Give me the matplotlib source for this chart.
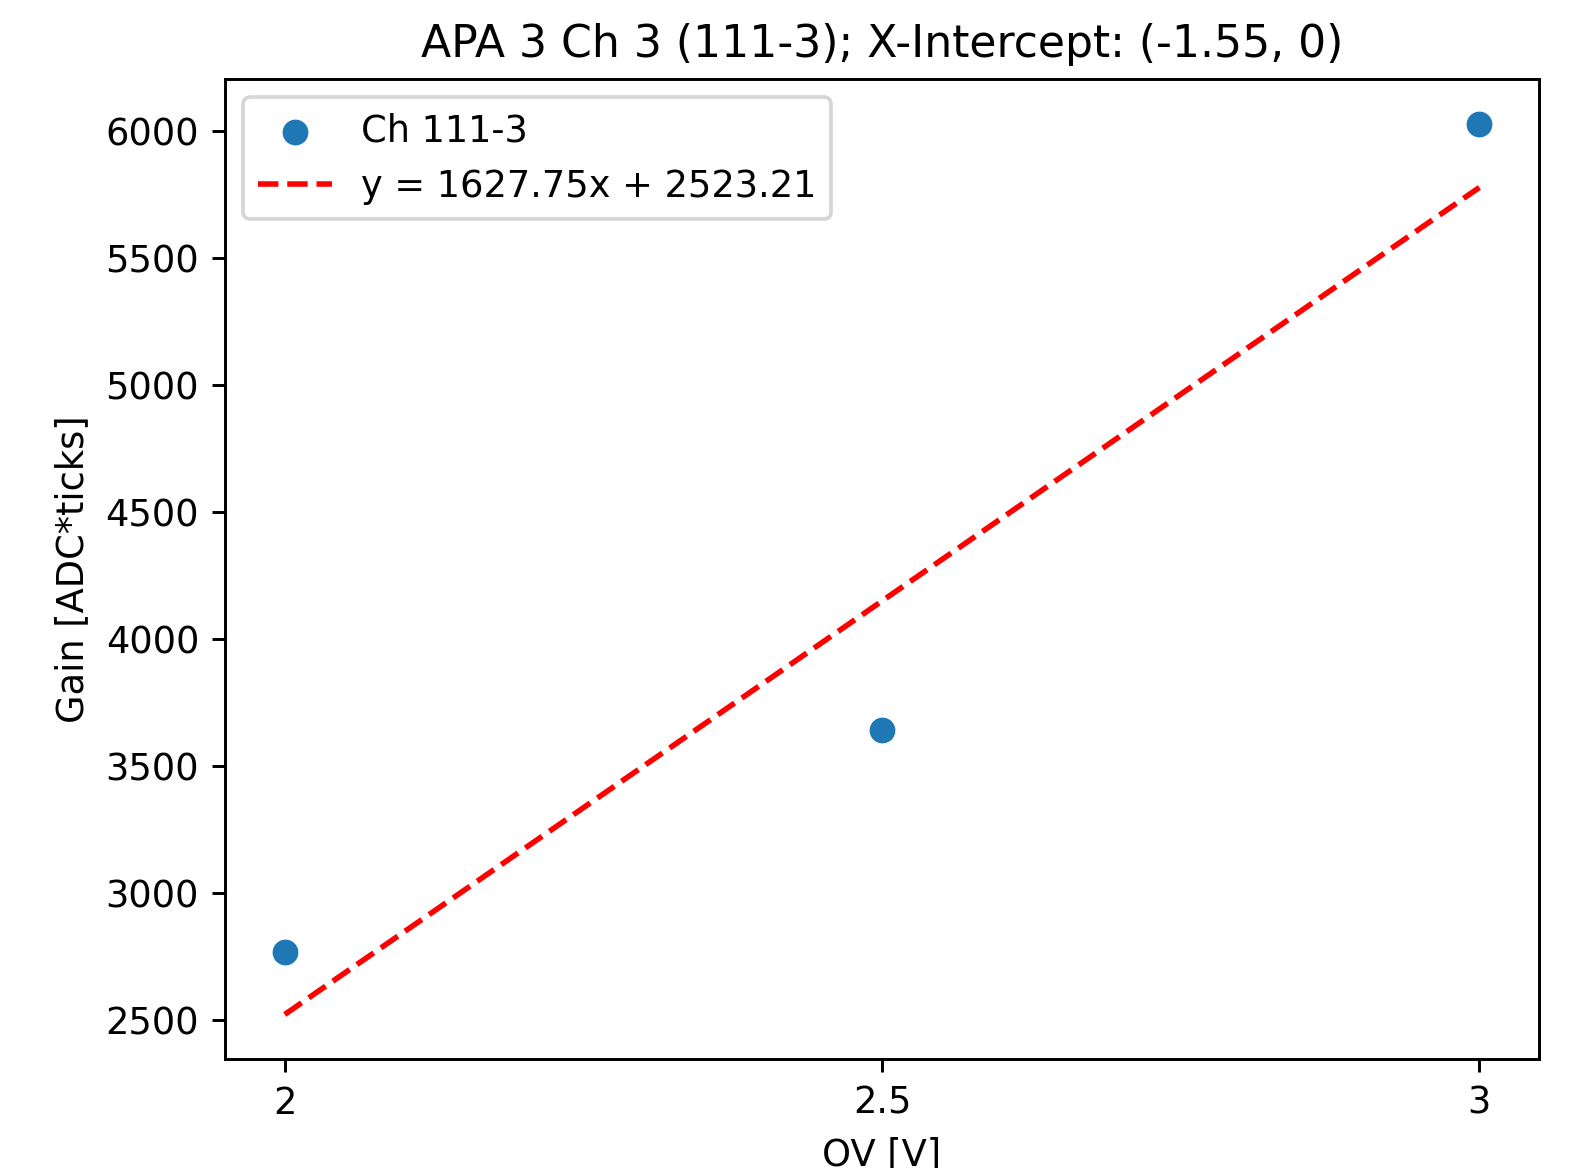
import numpy as np
import matplotlib
matplotlib.use("Agg")
from matplotlib import pyplot

# data
ov = [2.0, 2.5, 3.0]
gain = [2770, 3645, 6030]
slope = 1627.75
intercept = 2523.21
fit_index = [0, 1, 2]  # fit was done against point index, not OV
label_points = "Ch 111-3"
title = "APA 3 Ch 3 (111-3); X-Intercept: (-1.55, 0)"

dpi = 265
figure = pyplot.figure(figsize=(1589/dpi, 1168/dpi), dpi=dpi)
axes = figure.add_axes([0.1416, 0.0933, 0.827, 0.839])

axes.scatter(ov, gain, label=label_points)
fit = intercept + slope*np.array(fit_index)
axes.plot(ov, fit, "r--", label=f"y = {slope:.2f}x + {intercept:.2f}")

axes.set_xticks(ov)
axes.set_xticklabels(["2", "2.5", "3"])
axes.set_xlabel("OV [V]")
axes.set_ylabel("Gain [ADC*ticks]")
axes.set_title(title)
axes.legend(loc="upper left")

figure.savefig("out.png", dpi=dpi)
